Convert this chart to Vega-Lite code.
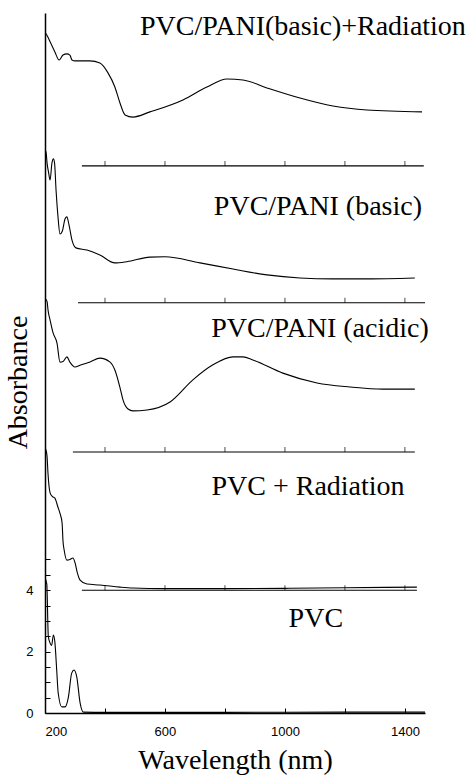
{
  "$schema": "https://vega.github.io/schema/vega-lite/v6.json",
  "width": 380,
  "height": 700,
  "autosize": {"type": "none"},
  "padding": {"left": 45, "top": 13, "right": 49, "bottom": 62},
  "background": "white",
  "config": {
    "view": {"stroke": null},
    "axis": {"grid": false, "domainColor": "black", "tickColor": "black"}
  },
  "datasets": {
    "spectra": [
      {"series": "PVC/PANI(basic)+Radiation", "wl": 200, "a": 22.15},
      {"series": "PVC/PANI(basic)+Radiation", "wl": 205, "a": 22.1},
      {"series": "PVC/PANI(basic)+Radiation", "wl": 217, "a": 21.86},
      {"series": "PVC/PANI(basic)+Radiation", "wl": 233, "a": 21.53},
      {"series": "PVC/PANI(basic)+Radiation", "wl": 247, "a": 21.27},
      {"series": "PVC/PANI(basic)+Radiation", "wl": 260, "a": 21.43},
      {"series": "PVC/PANI(basic)+Radiation", "wl": 273, "a": 21.47},
      {"series": "PVC/PANI(basic)+Radiation", "wl": 283, "a": 21.43},
      {"series": "PVC/PANI(basic)+Radiation", "wl": 290, "a": 21.27},
      {"series": "PVC/PANI(basic)+Radiation", "wl": 300, "a": 21.24},
      {"series": "PVC/PANI(basic)+Radiation", "wl": 350, "a": 21.24},
      {"series": "PVC/PANI(basic)+Radiation", "wl": 383, "a": 21.17},
      {"series": "PVC/PANI(basic)+Radiation", "wl": 410, "a": 20.85},
      {"series": "PVC/PANI(basic)+Radiation", "wl": 433, "a": 20.39},
      {"series": "PVC/PANI(basic)+Radiation", "wl": 450, "a": 19.87},
      {"series": "PVC/PANI(basic)+Radiation", "wl": 467, "a": 19.48},
      {"series": "PVC/PANI(basic)+Radiation", "wl": 493, "a": 19.41},
      {"series": "PVC/PANI(basic)+Radiation", "wl": 550, "a": 19.58},
      {"series": "PVC/PANI(basic)+Radiation", "wl": 660, "a": 19.97},
      {"series": "PVC/PANI(basic)+Radiation", "wl": 740, "a": 20.39},
      {"series": "PVC/PANI(basic)+Radiation", "wl": 807, "a": 20.65},
      {"series": "PVC/PANI(basic)+Radiation", "wl": 860, "a": 20.62},
      {"series": "PVC/PANI(basic)+Radiation", "wl": 940, "a": 20.36},
      {"series": "PVC/PANI(basic)+Radiation", "wl": 1050, "a": 20.03},
      {"series": "PVC/PANI(basic)+Radiation", "wl": 1160, "a": 19.77},
      {"series": "PVC/PANI(basic)+Radiation", "wl": 1273, "a": 19.64},
      {"series": "PVC/PANI(basic)+Radiation", "wl": 1457, "a": 19.58},

      {"series": "PVC/PANI (basic)", "wl": 200, "a": 18.1},
      {"series": "PVC/PANI (basic)", "wl": 203, "a": 18.3},
      {"series": "PVC/PANI (basic)", "wl": 207, "a": 17.9},
      {"series": "PVC/PANI (basic)", "wl": 212, "a": 17.6},
      {"series": "PVC/PANI (basic)", "wl": 217, "a": 17.36},
      {"series": "PVC/PANI (basic)", "wl": 223, "a": 17.9},
      {"series": "PVC/PANI (basic)", "wl": 228, "a": 18.05},
      {"series": "PVC/PANI (basic)", "wl": 232, "a": 17.9},
      {"series": "PVC/PANI (basic)", "wl": 237, "a": 17.0},
      {"series": "PVC/PANI (basic)", "wl": 243, "a": 16.2},
      {"series": "PVC/PANI (basic)", "wl": 250, "a": 15.6},
      {"series": "PVC/PANI (basic)", "wl": 258, "a": 15.7},
      {"series": "PVC/PANI (basic)", "wl": 267, "a": 16.1},
      {"series": "PVC/PANI (basic)", "wl": 273, "a": 16.16},
      {"series": "PVC/PANI (basic)", "wl": 280, "a": 15.9},
      {"series": "PVC/PANI (basic)", "wl": 290, "a": 15.4},
      {"series": "PVC/PANI (basic)", "wl": 303, "a": 15.15},
      {"series": "PVC/PANI (basic)", "wl": 340, "a": 15.08},
      {"series": "PVC/PANI (basic)", "wl": 383, "a": 14.92},
      {"series": "PVC/PANI (basic)", "wl": 433, "a": 14.66},
      {"series": "PVC/PANI (basic)", "wl": 473, "a": 14.7},
      {"series": "PVC/PANI (basic)", "wl": 550, "a": 14.85},
      {"series": "PVC/PANI (basic)", "wl": 600, "a": 14.86},
      {"series": "PVC/PANI (basic)", "wl": 717, "a": 14.66},
      {"series": "PVC/PANI (basic)", "wl": 827, "a": 14.46},
      {"series": "PVC/PANI (basic)", "wl": 940, "a": 14.27},
      {"series": "PVC/PANI (basic)", "wl": 1050, "a": 14.17},
      {"series": "PVC/PANI (basic)", "wl": 1160, "a": 14.14},
      {"series": "PVC/PANI (basic)", "wl": 1273, "a": 14.14},
      {"series": "PVC/PANI (basic)", "wl": 1433, "a": 14.17},

      {"series": "PVC/PANI (acidic)", "wl": 200, "a": 13.5},
      {"series": "PVC/PANI (acidic)", "wl": 207, "a": 13.4},
      {"series": "PVC/PANI (acidic)", "wl": 210, "a": 13.13},
      {"series": "PVC/PANI (acidic)", "wl": 217, "a": 12.8},
      {"series": "PVC/PANI (acidic)", "wl": 227, "a": 12.38},
      {"series": "PVC/PANI (acidic)", "wl": 240, "a": 12.05},
      {"series": "PVC/PANI (acidic)", "wl": 250, "a": 11.43},
      {"series": "PVC/PANI (acidic)", "wl": 260, "a": 11.45},
      {"series": "PVC/PANI (acidic)", "wl": 273, "a": 11.6},
      {"series": "PVC/PANI (acidic)", "wl": 283, "a": 11.43},
      {"series": "PVC/PANI (acidic)", "wl": 300, "a": 11.27},
      {"series": "PVC/PANI (acidic)", "wl": 317, "a": 11.33},
      {"series": "PVC/PANI (acidic)", "wl": 350, "a": 11.43},
      {"series": "PVC/PANI (acidic)", "wl": 383, "a": 11.56},
      {"series": "PVC/PANI (acidic)", "wl": 417, "a": 11.43},
      {"series": "PVC/PANI (acidic)", "wl": 433, "a": 11.17},
      {"series": "PVC/PANI (acidic)", "wl": 450, "a": 10.6},
      {"series": "PVC/PANI (acidic)", "wl": 460, "a": 10.2},
      {"series": "PVC/PANI (acidic)", "wl": 477, "a": 9.9},
      {"series": "PVC/PANI (acidic)", "wl": 493, "a": 9.84},
      {"series": "PVC/PANI (acidic)", "wl": 540, "a": 9.87},
      {"series": "PVC/PANI (acidic)", "wl": 617, "a": 10.13},
      {"series": "PVC/PANI (acidic)", "wl": 693, "a": 10.85},
      {"series": "PVC/PANI (acidic)", "wl": 760, "a": 11.34},
      {"series": "PVC/PANI (acidic)", "wl": 827, "a": 11.6},
      {"series": "PVC/PANI (acidic)", "wl": 860, "a": 11.6},
      {"series": "PVC/PANI (acidic)", "wl": 893, "a": 11.5},
      {"series": "PVC/PANI (acidic)", "wl": 993, "a": 11.07},
      {"series": "PVC/PANI (acidic)", "wl": 1107, "a": 10.75},
      {"series": "PVC/PANI (acidic)", "wl": 1217, "a": 10.62},
      {"series": "PVC/PANI (acidic)", "wl": 1327, "a": 10.55},
      {"series": "PVC/PANI (acidic)", "wl": 1433, "a": 10.55},

      {"series": "PVC + Radiation", "wl": 200, "a": 8.63},
      {"series": "PVC + Radiation", "wl": 205, "a": 8.5},
      {"series": "PVC + Radiation", "wl": 207, "a": 8.34},
      {"series": "PVC + Radiation", "wl": 210, "a": 7.8},
      {"series": "PVC + Radiation", "wl": 217, "a": 7.17},
      {"series": "PVC + Radiation", "wl": 225, "a": 7.05},
      {"series": "PVC + Radiation", "wl": 233, "a": 7.0},
      {"series": "PVC + Radiation", "wl": 243, "a": 6.71},
      {"series": "PVC + Radiation", "wl": 250, "a": 6.5},
      {"series": "PVC + Radiation", "wl": 257, "a": 6.19},
      {"series": "PVC + Radiation", "wl": 260, "a": 5.6},
      {"series": "PVC + Radiation", "wl": 264, "a": 5.3},
      {"series": "PVC + Radiation", "wl": 273, "a": 4.98},
      {"series": "PVC + Radiation", "wl": 283, "a": 5.0},
      {"series": "PVC + Radiation", "wl": 293, "a": 5.05},
      {"series": "PVC + Radiation", "wl": 300, "a": 4.9},
      {"series": "PVC + Radiation", "wl": 307, "a": 4.6},
      {"series": "PVC + Radiation", "wl": 317, "a": 4.33},
      {"series": "PVC + Radiation", "wl": 340, "a": 4.2},
      {"series": "PVC + Radiation", "wl": 383, "a": 4.17},
      {"series": "PVC + Radiation", "wl": 450, "a": 4.1},
      {"series": "PVC + Radiation", "wl": 493, "a": 4.07},
      {"series": "PVC + Radiation", "wl": 600, "a": 4.05},
      {"series": "PVC + Radiation", "wl": 800, "a": 4.05},
      {"series": "PVC + Radiation", "wl": 1000, "a": 4.06},
      {"series": "PVC + Radiation", "wl": 1200, "a": 4.08},
      {"series": "PVC + Radiation", "wl": 1440, "a": 4.1},

      {"series": "PVC", "wl": 200, "a": 4.4},
      {"series": "PVC", "wl": 206, "a": 4.2},
      {"series": "PVC", "wl": 211, "a": 2.5},
      {"series": "PVC", "wl": 216, "a": 2.3},
      {"series": "PVC", "wl": 222, "a": 2.2},
      {"series": "PVC", "wl": 228, "a": 2.54},
      {"series": "PVC", "wl": 233, "a": 2.3},
      {"series": "PVC", "wl": 239, "a": 1.4},
      {"series": "PVC", "wl": 244, "a": 0.65},
      {"series": "PVC", "wl": 256, "a": 0.2},
      {"series": "PVC", "wl": 267, "a": 0.2},
      {"series": "PVC", "wl": 278, "a": 0.52},
      {"series": "PVC", "wl": 289, "a": 1.3},
      {"series": "PVC", "wl": 297, "a": 1.4},
      {"series": "PVC", "wl": 306, "a": 1.17},
      {"series": "PVC", "wl": 317, "a": 0.33},
      {"series": "PVC", "wl": 328, "a": 0.03},
      {"series": "PVC", "wl": 400, "a": 0.02},
      {"series": "PVC", "wl": 800, "a": 0.02},
      {"series": "PVC", "wl": 1200, "a": 0.03},
      {"series": "PVC", "wl": 1467, "a": 0.03}
    ],
    "baselines": [
      {"series": "PVC/PANI(basic)+Radiation", "start": 323, "end": 1463, "base": 17.82},
      {"series": "PVC/PANI (basic)", "start": 310, "end": 1467, "base": 13.36},
      {"series": "PVC/PANI (acidic)", "start": 293, "end": 1433, "base": 8.5},
      {"series": "PVC + Radiation", "start": 323, "end": 1440, "base": 4.0}
    ],
    "baseticks": [
      {"wl": 400, "base": 17.82}, {"wl": 600, "base": 17.82}, {"wl": 800, "base": 17.82},
      {"wl": 1000, "base": 17.82}, {"wl": 1200, "base": 17.82}, {"wl": 1400, "base": 17.82},
      {"wl": 400, "base": 13.36}, {"wl": 600, "base": 13.36}, {"wl": 800, "base": 13.36},
      {"wl": 1000, "base": 13.36}, {"wl": 1200, "base": 13.36}, {"wl": 1400, "base": 13.36},
      {"wl": 400, "base": 8.5}, {"wl": 600, "base": 8.5}, {"wl": 800, "base": 8.5},
      {"wl": 1000, "base": 8.5}, {"wl": 1200, "base": 8.5}, {"wl": 1400, "base": 8.5},
      {"wl": 400, "base": 4.0}, {"wl": 600, "base": 4.0}, {"wl": 800, "base": 4.0},
      {"wl": 1000, "base": 4.0}, {"wl": 1200, "base": 4.0}, {"wl": 1400, "base": 4.0}
    ],
    "labels": [
      {"label": "PVC/PANI(basic)+Radiation", "wl": 1060, "a": 22.08},
      {"label": "PVC/PANI (basic)", "wl": 1110, "a": 16.22},
      {"label": "PVC/PANI (acidic)", "wl": 1117, "a": 12.25},
      {"label": "PVC + Radiation", "wl": 1077, "a": 7.1},
      {"label": "PVC", "wl": 1103, "a": 2.8}
    ]
  },
  "layer": [
    {
      "data": {"name": "spectra"},
      "mark": {"type": "line", "color": "black", "strokeWidth": 1.1, "interpolate": "monotone", "clip": true},
      "encoding": {
        "x": {
          "field": "wl", "type": "quantitative",
          "scale": {"domain": [200, 1467], "nice": false, "zero": false},
          "axis": {
            "title": "Wavelength (nm)",
            "titleFont": "Liberation Serif",
            "titleFontSize": 28,
            "titleFontWeight": "normal",
            "labelFontSize": 13,
            "values": [200, 400, 600, 800, 1000, 1200, 1400],
            "format": "d",
            "labelExpr": "(datum.value == 200 || datum.value == 600 || datum.value == 1000 || datum.value == 1400) ? datum.label : ''",
            "labelFlush": true,
            "tickSize": -5,
            "labelPadding": 17,
            "domainWidth": 1.5,
            "titleY": 55,
            "titleBaseline": "alphabetic"
          }
        },
        "y": {
          "field": "a", "type": "quantitative",
          "scale": {"domain": [0, 22.8], "nice": false, "zero": false},
          "axis": {
            "title": "Absorbance",
            "titleFont": "Liberation Serif",
            "titleFontSize": 28,
            "titleFontWeight": "normal",
            "labelFontSize": 13,
            "values": [0, 0.5, 1, 1.5, 2, 2.5, 3, 3.5, 4, 4.5, 5],
            "labelExpr": "(datum.value == 0 || datum.value == 2 || datum.value == 4) ? datum.label : ''",
            "tickSize": -5,
            "labelPadding": 17,
            "domainWidth": 1.5,
            "titleX": -27,
            "titleY": 369,
            "titleAngle": -90,
            "titleAlign": "center",
            "titleBaseline": "middle"
          }
        },
        "detail": {"field": "series"}
      }
    },
    {
      "data": {"name": "baselines"},
      "mark": {"type": "rule", "color": "black", "strokeWidth": 1.1},
      "encoding": {
        "x": {"field": "start", "type": "quantitative"},
        "x2": {"field": "end"},
        "y": {"field": "base", "type": "quantitative"}
      }
    },
    {
      "data": {"name": "baseticks"},
      "mark": {"type": "tick", "orient": "vertical", "color": "black", "size": 5, "thickness": 1, "yOffset": -2.5},
      "encoding": {
        "x": {"field": "wl", "type": "quantitative"},
        "y": {"field": "base", "type": "quantitative"}
      }
    },
    {
      "data": {"name": "labels"},
      "mark": {"type": "text", "font": "Liberation Serif", "fontSize": 28, "color": "black", "align": "center", "baseline": "alphabetic"},
      "encoding": {
        "x": {"field": "wl", "type": "quantitative"},
        "y": {"field": "a", "type": "quantitative"},
        "text": {"field": "label"}
      }
    }
  ]
}
